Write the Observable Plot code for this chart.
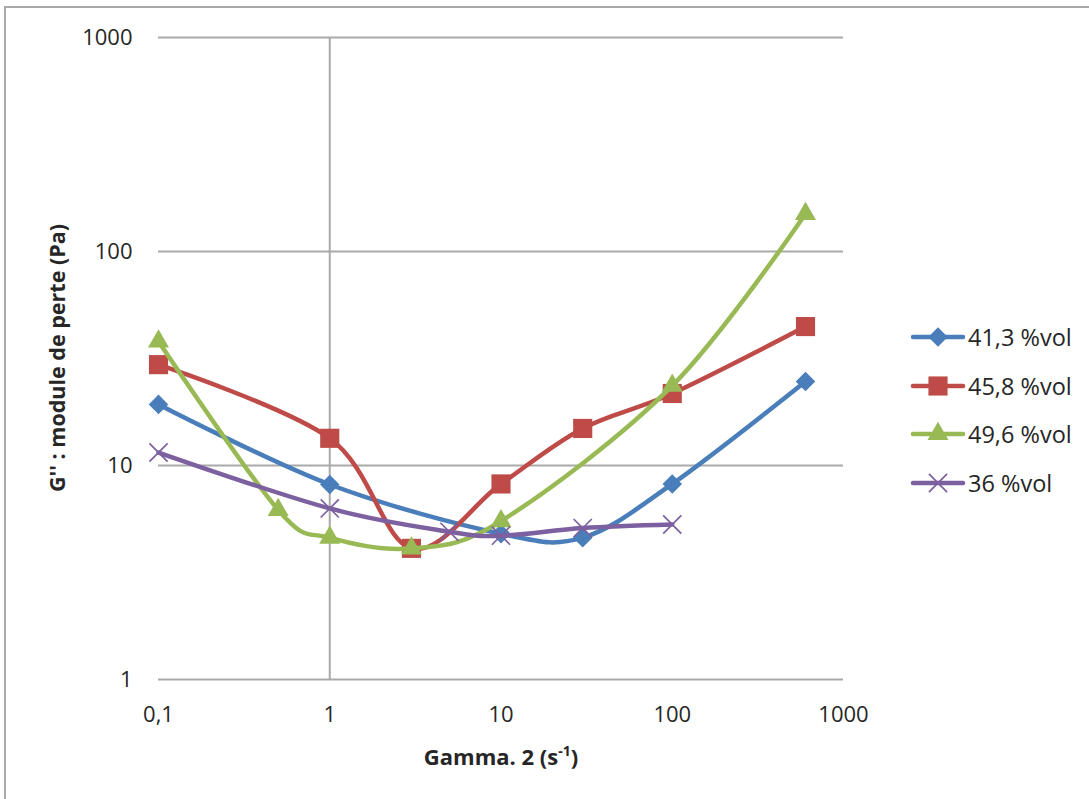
<!DOCTYPE html>
<html>
<head>
<meta charset="utf-8">
<script src="https://cdn.jsdelivr.net/npm/d3@7"></script>
<script src="https://cdn.jsdelivr.net/npm/@observablehq/plot@0.6"></script>
<style>
  body { margin: 0; background: #fff; }
  #wrap { position: relative; width: 1089px; height: 799px; overflow: hidden; background: #fff; font-family: "Open Sans", sans-serif; color: #262626; }
  #frame { position: absolute; left: 4px; top: 6px; width: 2000px; height: 2000px; border-left: 2px solid #a9a9a9; border-top: 2px solid #a9a9a9; }
  #chart { position: absolute; left: 0; top: 0; }
  #legend { position: absolute; left: 905px; top: 313px; }
  .row { display: flex; align-items: center; height: 48.5px; font-size: 23.5px; }
  .row svg { margin-right: 1px; }
</style>
</head>
<body>
<div id="wrap">
  <div id="frame"></div>
  <div id="chart"></div>
  <div id="legend"></div>
</div>
<script>
// ---- data ----
const seriesNames = ["41,3 %vol", "45,8 %vol", "49,6 %vol", "36 %vol"];
const x41 = [0.1, 1, 10, 30, 100, 600];
const y41 = [19.3, 8.15, 4.8, 4.6, 8.2, 24.7];
const x45 = [0.1, 1, 3, 10, 30, 100, 600];
const y45 = [29.6, 13.4, 4.1, 8.2, 14.9, 21.7, 44.6];
const x49 = [0.1, 0.5, 1, 3, 10, 100, 600];
const y49 = [38, 6.2, 4.6, 4.1, 5.5, 23.6, 150];
const x36 = [0.1, 1, 5, 10, 30, 100];
const y36 = [11.5, 6.3, 4.9, 4.7, 5.1, 5.3];
const xTicks = [0.1, 1, 10, 100, 1000];
const xTickLabels = ["0,1", "1", "10", "100", "1000"];
const yTicks = [1, 10, 100, 1000];
const yTickLabels = ["1", "10", "100", "1000"];
const xTitle = ["Gamma. 2 (s", "-1", ")"];
const yTitle = "G'' : module de perte (Pa)";

// ---- styles ----
const colors = ["#4A7EBB", "#BE4B48", "#98B954", "#7D60A0"];
const symbols = ["diamond2", "square", "triangle", "times"];
const radii = [8.8, 10.8, 7.8, 8.3];
const xsAll = [x41, x45, x49, x36];
const ysAll = [y41, y45, y49, y36];

const tables = xsAll.map((xs, k) => xs.map((x, i) => ({x, y: ysAll[k][i]})));

const xFmt = new Map(xTicks.map((t, i) => [t, xTickLabels[i]]));
const yFmt = new Map(yTicks.map((t, i) => [t, yTickLabels[i]]));

const marks = [
  Plot.ruleY(yTicks, {stroke: "#a9a9a9", strokeWidth: 2}),
  Plot.ruleX([1], {stroke: "#a9a9a9", strokeWidth: 2}),
  Plot.axisX({ticks: xTicks, tickFormat: d => xFmt.get(d), tickSize: 0, tickPadding: 27, label: null}),
  Plot.axisY({ticks: yTicks, tickFormat: d => yFmt.get(d), tickSize: 0, tickPadding: 26, label: null})
];
tables.forEach((t, k) => {
  marks.push(Plot.line(t, {x: "x", y: "y", stroke: colors[k], strokeWidth: 4.5, curve: "cardinal", strokeLinecap: "round", strokeLinejoin: "round"}));
  const isStroke = symbols[k] === "times";
  marks.push(Plot.dot(t, {
    x: "x", y: "y", symbol: symbols[k], r: radii[k],
    fill: isStroke ? "none" : colors[k],
    stroke: colors[k], strokeWidth: isStroke ? 1.7 : 0
  }));
});

const plot = Plot.plot({
  width: 1089, height: 799,
  marginLeft: 158, marginRight: 246, marginTop: 37, marginBottom: 120,
  x: {type: "log", domain: [0.1, 1000]},
  y: {type: "log", domain: [1, 1000]},
  style: {fontFamily: "Open Sans, sans-serif", fontSize: "22px", color: "#262626", background: "transparent", overflow: "visible"},
  marks
});
document.getElementById("chart").appendChild(plot);

const svg = d3.select(plot);
svg.append("text")
  .attr("transform", "translate(57,358) rotate(-90)")
  .attr("text-anchor", "middle").attr("dy", "0.35em")
  .attr("font-weight", "bold").attr("font-size", 21.5).attr("fill", "#262626")
  .text(yTitle);
const xt = svg.append("text")
  .attr("x", 501).attr("y", 765)
  .attr("text-anchor", "middle")
  .attr("font-weight", "bold").attr("font-size", 22).attr("fill", "#262626");
xt.append("tspan").text(xTitle[0]);
xt.append("tspan").attr("font-size", 14).attr("dy", -9).text(xTitle[1]);
xt.append("tspan").attr("dy", 9).text(xTitle[2]);

// ---- legend ----
const legend = d3.select("#legend");
seriesNames.forEach((name, k) => {
  const row = legend.append("div").attr("class", "row");
  const s = row.append("svg").attr("width", 62).attr("height", 30);
  s.append("line").attr("x1", 8).attr("x2", 58).attr("y1", 15).attr("y2", 15)
    .attr("stroke", colors[k]).attr("stroke-width", 4.5).attr("stroke-linecap", "round");
  const symMap = {diamond2: d3.symbolDiamond2, square: d3.symbolSquare, triangle: d3.symbolTriangle, times: d3.symbolTimes};
  const isStroke = symbols[k] === "times";
  s.append("path")
    .attr("transform", "translate(33,15)")
    .attr("d", d3.symbol(symMap[symbols[k]], Math.PI * radii[k] * radii[k])())
    .attr("fill", isStroke ? "none" : colors[k])
    .attr("stroke", colors[k]).attr("stroke-width", isStroke ? 1.7 : 0);
  row.append("span").text(name);
});
</script>
</body>
</html>
